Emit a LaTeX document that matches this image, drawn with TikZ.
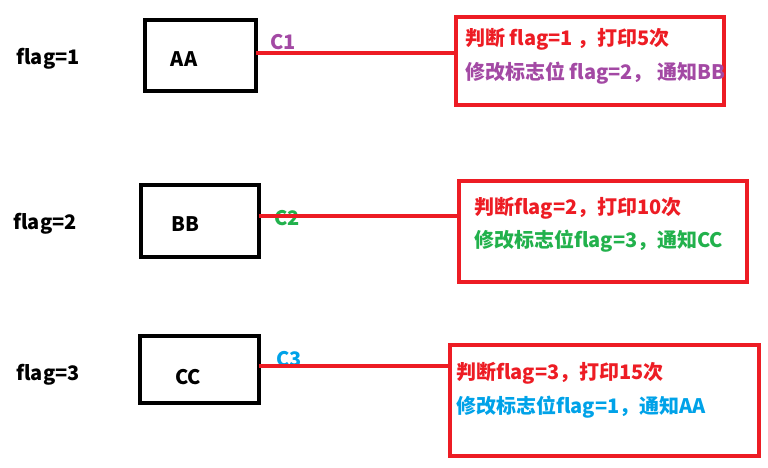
\documentclass[tikz,border=0pt]{standalone}
\usepackage{fontspec}
\setmainfont{Noto Sans CJK SC}
\usepackage{xcolor}
\definecolor{pred}{RGB}{237,28,36}
\definecolor{ppurple}{RGB}{163,73,164}
\definecolor{pgreen}{RGB}{34,177,76}
\definecolor{pblue}{RGB}{0,162,232}
\usetikzlibrary{positioning}

\begin{document}
\begin{tikzpicture}[x=1pt,y=-1pt,inner sep=0pt,outer sep=0pt,
  txt/.style={font=\bfseries\fontsize{20}{23}\selectfont},
  blk/.style={draw,line width=4.5pt},
  note/.style={draw=pred,line width=4.5pt},
  wire/.style={draw=pred,line width=4pt}]
\useasboundingbox (0,0) rectangle (768,468);
% flags
\node[txt] (flagA) at (48,59) {flag=1};
\node[txt] (flagB) at (45,224) {flag=2};
\node[txt] (flagC) at (48,375) {flag=3};
% threads
\node[blk,minimum width=111pt,minimum height=71pt] (boxA) at (200.5,55.5) {};
\node[blk,minimum width=118pt,minimum height=72pt] (boxB) at (200,221) {};
\node[blk,minimum width=119pt,minimum height=67pt] (boxC) at (199.5,369.5) {};
\node[txt] (nameA) at (184,59) {AA};
\node[txt] (nameB) at (185,224) {BB};
\node[txt] (nameC) at (188,377) {CC};
% conditions
\node[txt,text=ppurple] (condA) at (283,42) {C1};
\node[txt,text=pgreen] (condB) at (287,218) {C2};
\node[txt,text=pblue] (condC) at (289,359) {C3};
% notes
\node[note,minimum width=268pt,minimum height=88pt] (noteA) at (590,61) {};
\node[note,minimum width=288pt,minimum height=101pt] (noteB) at (603,231.5) {};
\node[note,minimum width=309pt,minimum height=111pt] (noteC) at (604.5,400.5) {};
\node[txt,anchor=west,text=pred] (noteA1) at (465,39) {判断 flag=1 ，打印5次};
\node[txt,anchor=west,text=ppurple] (noteA2) at (465,73) {修改标志位 flag=2， 通知BB};
\node[txt,anchor=west,text=pred] (noteB1) at (474,208) {判断flag=2，打印10次};
\node[txt,anchor=west,text=pgreen] (noteB2) at (474,241) {修改标志位flag=3，通知CC};
\node[txt,anchor=west,text=pred] (noteC1) at (456,373) {判断flag=3，打印15次};
\node[txt,anchor=west,text=pblue] (noteC2) at (456,407) {修改标志位flag=1，通知AA};
% wires
\draw[wire] ([yshift=2.5pt]boxA.east) -- ([yshift=2.5pt]boxA.east -| noteA.west);
\draw[wire] ([yshift=5pt]boxB.east) -- ([yshift=5pt]boxB.east -| noteB.west);
\draw[wire] ([yshift=3.5pt]boxC.east) -- ([yshift=3.5pt]boxC.east -| noteC.west);
\end{tikzpicture}
\end{document}
